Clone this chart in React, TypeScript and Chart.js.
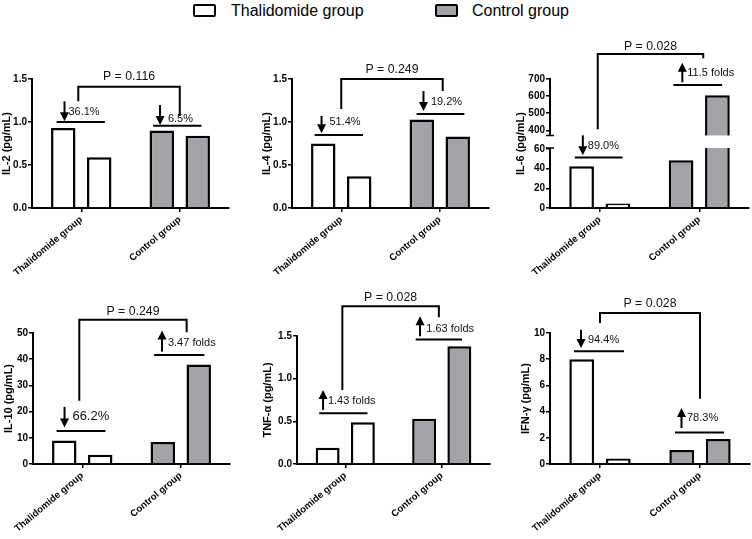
import React, { useEffect, useRef } from 'react';
import { Chart, registerables } from 'chart.js';

Chart.register(...registerables);

const FONT = '"Liberation Sans", Arial, Helvetica, sans-serif';

// ---------- data ----------
const categories = ['Thalidomide group', 'Control group'];
const legendLabels = ['Thalidomide group', 'Control group'];
const groupFills = ['#ffffff', '#a3a3a7'];

const il2Before = [0.93, 0.9];
const il2After = [0.59, 0.84];
const il4Before = [0.75, 1.03];
const il4After = [0.37, 0.83];
const il6Before = [42.5, 48.6];
const il6After = [4.7, 605];
const il10Before = [9.0, 8.4];
const il10After = [3.5, 38.0];
const tnfBefore = [0.19, 0.53];
const tnfAfter = [0.49, 1.38];
const ifnBefore = [8.0, 1.07];
const ifnAfter = [0.42, 1.9];

const il2Ticks = ['0.0', '0.5', '1.0', '1.5'];
const il4Ticks = ['0.0', '0.5', '1.0', '1.5'];
const il6LowTicks = ['0', '20', '40', '60'];
const il6HighTicks = ['400', '500', '600', '700'];
const il10Ticks = ['0', '10', '20', '30', '40', '50'];
const tnfTicks = ['0.0', '0.5', '1.0', '1.5'];
const ifnTicks = ['0', '2', '4', '6', '8', '10'];

const yTitles = ['IL-2 (pg/mL)', 'IL-4 (pg/mL)', 'IL-6 (pg/mL)', 'IL-10 (pg/mL)', 'TNF-\u03b1 (pg/mL)', 'IFN-\u03b3 (pg/mL)'];
const pValues = ['P = 0.116', 'P = 0.249', 'P = 0.028', 'P = 0.249', 'P = 0.028', 'P = 0.028'];
const il2Changes = ['36.1%', '6.5%'];
const il4Changes = ['51.4%', '19.2%'];
const il6Changes = ['89.0%', '11.5 folds'];
const il10Changes = ['66.2%', '3.47 folds'];
const tnfChanges = ['1.43 folds', '1.63 folds'];
const ifnChanges = ['94.4%', '78.3%'];

// ---------- annotation geometry (data units) ----------
type Group = { axis?: string; lineY: number; x0: number; x1: number; arrowX: number; from: number; to: number; textX: number; textY: number; size?: number };
type Bracket = { axis?: string; xL: number; xR: number; top: number; leftEnd: number; rightEnd: number; textY: number };
type Box = { left: number; top: number; axisW: number; plotW: number; padRight: number; padTop: number; plotH: number; xH: number };
type Broken = { lowTicks: string[]; highTicks: string[]; lowMax: number; highMin: number; lowWeight: number; highWeight: number; gapHigh: number; gapLow: number };
type PanelCfg = { title: string; before: number[]; after: number[]; ticks: string[]; pText: string; changes: string[]; bracket: Bracket; groups: Group[]; box: Box; broken?: Broken };

const panels: PanelCfg[] = [
  {
    title: yTitles[0], before: il2Before, after: il2After, ticks: il2Ticks, pText: pValues[0], changes: il2Changes,
    bracket: { xL: -0.03, xR: 1.0, top: 1.41, leftEnd: 1.24, rightEnd: 1.07, textY: 1.53 },
    groups: [
      { lineY: 1.0, x0: -0.25, x1: 0.24, arrowX: -0.17, from: 1.24, to: 1.01, textX: -0.13, textY: 1.12 },
      { lineY: 0.957, x0: -0.27, x1: 0.22, arrowX: -0.2, from: 1.198, to: 0.965, textX: -0.12, textY: 1.035 },
    ],
    box: { left: 0, top: 28, axisW: 32, plotW: 197, padRight: 4, padTop: 51, plotH: 129, xH: 66 },
  },
  {
    title: yTitles[1], before: il4Before, after: il4After, ticks: il4Ticks, pText: pValues[1], changes: il4Changes,
    bracket: { xL: 0.0, xR: 1.03, top: 1.5, leftEnd: 1.15, rightEnd: 1.36, textY: 1.61 },
    groups: [
      { lineY: 0.85, x0: -0.27, x1: 0.22, arrowX: -0.2, from: 1.07, to: 0.87, textX: -0.12, textY: 1.0 },
      { lineY: 1.093, x0: -0.235, x1: 0.25, arrowX: -0.165, from: 1.36, to: 1.128, textX: -0.09, textY: 1.236 },
    ],
    box: { left: 260, top: 28, axisW: 32, plotW: 197, padRight: 4, padTop: 51, plotH: 129, xH: 66 },
  },
  {
    title: yTitles[2], before: il6Before, after: il6After, ticks: il6LowTicks, pText: pValues[2], changes: il6Changes,
    bracket: { axis: 'yHi', xL: -0.02, xR: 1.04, top: 846, leftEnd: 406, rightEnd: 821, textY: 889 },
    groups: [
      { axis: 'yLo', lineY: 51.3, x0: -0.25, x1: 0.23, arrowX: -0.17, from: 73.9, to: 53.6, textX: -0.12, textY: 62.8 },
      { axis: 'yHi', lineY: 665, x0: -0.26, x1: 0.23, arrowX: -0.17, from: 681, to: 795, textX: -0.12, textY: 733 },
    ],
    box: { left: 514, top: 28, axisW: 36, plotW: 199, padRight: 3, padTop: 51, plotH: 129, xH: 66 },
    broken: { lowTicks: il6LowTicks, highTicks: il6HighTicks, lowMax: 67.6, highMin: 334.5, lowWeight: 66.5, highWeight: 62.5, gapHigh: 370, gapLow: 61 },
  },
  {
    title: yTitles[3], before: il10Before, after: il10After, ticks: il10Ticks, pText: pValues[3], changes: il10Changes,
    bracket: { xL: -0.03, xR: 1.06, top: 55.1, leftEnd: 24.1, rightEnd: 50.3, textY: 58.2 },
    groups: [
      { lineY: 12.6, x0: -0.26, x1: 0.235, arrowX: -0.18, from: 21.8, to: 13.9, textX: -0.1, textY: 18.0, size: 13 },
      { lineY: 41.6, x0: -0.27, x1: 0.24, arrowX: -0.19, from: 42.9, to: 51, textX: -0.13, textY: 46.1 },
    ],
    box: { left: 2, top: 280, axisW: 31, plotW: 197, padRight: 4, padTop: 53, plotH: 131, xH: 70 },
  },
  {
    title: yTitles[4], before: tnfBefore, after: tnfAfter, ticks: tnfTicks, pText: pValues[4], changes: tnfChanges,
    bracket: { xL: -0.03, xR: 0.97, top: 1.85, leftEnd: 0.867, rightEnd: 1.72, textY: 1.95 },
    groups: [
      { lineY: 0.595, x0: -0.27, x1: 0.23, arrowX: -0.23, from: 0.634, to: 0.867, textX: -0.18, textY: 0.742 },
      { lineY: 1.459, x0: -0.27, x1: 0.21, arrowX: -0.225, from: 1.497, to: 1.73, textX: -0.16, textY: 1.579 },
    ],
    box: { left: 261, top: 280, axisW: 36, plotW: 193, padRight: 4, padTop: 56, plotH: 128, xH: 70 },
  },
  {
    title: yTitles[5], before: ifnBefore, after: ifnAfter, ticks: ifnTicks, pText: pValues[5], changes: ifnChanges,
    bracket: { xL: 0.0, xR: 1.0, top: 11.53, leftEnd: 10.76, rightEnd: 4.98, textY: 12.24 },
    groups: [
      { lineY: 8.6, x0: -0.26, x1: 0.24, arrowX: -0.19, from: 10.25, to: 8.85, textX: -0.12, textY: 9.49 },
      { lineY: 2.41, x0: -0.25, x1: 0.24, arrowX: -0.185, from: 2.75, to: 4.27, textX: -0.13, textY: 3.51 },
    ],
    box: { left: 519, top: 280, axisW: 31, plotW: 200, padRight: 2, padTop: 53, plotH: 131, xH: 70 },
  },
];

// ---------- chart building ----------
function yScale(ticks: string[], axisW: number, extra: any) {
  const values = ticks.map(Number);
  return {
    type: 'linear',
    position: 'left',
    grid: { display: true, drawOnChartArea: false, drawTicks: true, tickLength: 4, color: '#000', lineWidth: 1.5 },
    border: { display: true, color: '#000', width: 2 },
    ticks: {
      padding: 1,
      color: '#000',
      font: { family: FONT, size: 10, weight: 'bold' },
      callback: (_v: any, i: number) => (ticks[i] !== undefined ? ticks[i] : ''),
    },
    afterBuildTicks: (s: any) => {
      s.ticks = values.map((v) => ({ value: v }));
    },
    afterFit: (s: any) => {
      s.width = axisW;
    },
    ...extra,
  };
}

function drawArrow(ctx: CanvasRenderingContext2D, x: number, yFrom: number, yTo: number) {
  const dir = yTo > yFrom ? 1 : -1;
  const head = 9;
  const hw = 4.5;
  ctx.beginPath();
  ctx.moveTo(x, yFrom);
  ctx.lineTo(x, yTo - dir * head + dir);
  ctx.stroke();
  ctx.beginPath();
  ctx.moveTo(x, yTo);
  ctx.lineTo(x - hw, yTo - dir * head);
  ctx.lineTo(x + hw, yTo - dir * head);
  ctx.closePath();
  ctx.fill();
}

function makeMarksPlugin(cfg: PanelCfg) {
  return {
    id: 'cytokineMarks',
    afterDatasetsDraw(chart: any) {
      const brk = cfg.broken;
      if (!brk) return;
      const ctx = chart.ctx as CanvasRenderingContext2D;
      const area = chart.chartArea;
      const top = chart.scales.yHi.getPixelForValue(brk.gapHigh);
      const bot = chart.scales.yLo.getPixelForValue(brk.gapLow);
      ctx.save();
      ctx.fillStyle = '#ffffff';
      ctx.fillRect(area.left - 1.5, top, area.right - area.left + 3, bot - top);
      ctx.strokeStyle = '#000';
      ctx.lineWidth = 1.5;
      ctx.beginPath();
      ctx.moveTo(area.left - 4, top);
      ctx.lineTo(area.left + 4, top);
      ctx.moveTo(area.left - 4, bot);
      ctx.lineTo(area.left + 4, bot);
      ctx.stroke();
      ctx.restore();
    },
    afterDraw(chart: any) {
      const ctx = chart.ctx as CanvasRenderingContext2D;
      const xs = chart.scales.x;
      const xOf = (v: number) => xs.getPixelForValue(v);
      const yOf = (axis: string | undefined, v: number) => chart.scales[axis || 'y'].getPixelForValue(v);
      ctx.save();
      ctx.strokeStyle = '#000';
      ctx.fillStyle = '#000';
      ctx.lineWidth = 2;
      ctx.lineCap = 'butt';
      ctx.lineJoin = 'miter';

      // P-value bracket
      const b = cfg.bracket;
      const xl = xOf(b.xL);
      const xr = xOf(b.xR);
      const yt = yOf(b.axis, b.top);
      ctx.beginPath();
      ctx.moveTo(xl, yOf(b.axis, b.leftEnd));
      ctx.lineTo(xl, yt);
      ctx.lineTo(xr, yt);
      ctx.lineTo(xr, yOf(b.axis, b.rightEnd));
      ctx.stroke();
      ctx.font = `12.3px ${FONT}`;
      ctx.textAlign = 'center';
      ctx.textBaseline = 'middle';
      ctx.fillStyle = '#111';
      ctx.fillText(cfg.pText, (xl + xr) / 2, yOf(b.axis, b.textY));

      // group change marks
      cfg.groups.forEach((g, i) => {
        ctx.fillStyle = '#000';
        const ly = yOf(g.axis, g.lineY);
        ctx.beginPath();
        ctx.moveTo(xOf(i + g.x0), ly);
        ctx.lineTo(xOf(i + g.x1), ly);
        ctx.stroke();
        drawArrow(ctx, xOf(i + g.arrowX), yOf(g.axis, g.from), yOf(g.axis, g.to));
        ctx.font = `${g.size || 11}px ${FONT}`;
        ctx.textAlign = 'left';
        ctx.textBaseline = 'middle';
        ctx.fillStyle = '#111';
        ctx.fillText(cfg.changes[i], xOf(i + g.textX), yOf(g.axis, g.textY));
      });

      // shared y title for the broken axis
      if (cfg.broken) {
        const hi = chart.scales.yHi;
        const lo = chart.scales.yLo;
        ctx.save();
        ctx.font = `bold 11px ${FONT}`;
        ctx.fillStyle = '#000';
        ctx.textAlign = 'center';
        ctx.textBaseline = 'middle';
        ctx.translate(lo.left + 6.6, (hi.top + lo.bottom) / 2);
        ctx.rotate(-Math.PI / 2);
        ctx.fillText(cfg.title, 0, 0);
        ctx.restore();
      }
      ctx.restore();
    },
  };
}

function buildConfig(cfg: PanelCfg): any {
  const B = cfg.box;
  const common = {
    backgroundColor: groupFills,
    borderColor: '#000',
    borderWidth: 2.5,
    barPercentage: 0.68,
    categoryPercentage: 0.73,
  };
  let datasets: any[];
  let yScales: any;
  if (cfg.broken) {
    const br = cfg.broken;
    datasets = [
      { ...common, label: 'Before', data: cfg.before.map((v) => Math.min(v, br.lowMax)), yAxisID: 'yLo', stack: 'before' },
      { ...common, label: 'After', data: cfg.after.map((v) => Math.min(v, br.lowMax)), yAxisID: 'yLo', stack: 'after' },
      { ...common, label: 'After (upper)', data: cfg.after.map((v) => (v > br.highMin ? [br.highMin, v] : null)), yAxisID: 'yHi', stack: 'after' },
    ];
    const hiVals = br.highTicks.map(Number);
    yScales = {
      yLo: yScale(br.lowTicks, B.axisW, { min: 0, max: br.lowMax, stack: 'il6', stackWeight: br.lowWeight, stacked: false }),
      yHi: yScale(br.highTicks, B.axisW, { min: br.highMin, max: hiVals[hiVals.length - 1], stack: 'il6', stackWeight: br.highWeight, stacked: false }),
    };
  } else {
    datasets = [
      { ...common, label: 'Before', data: cfg.before },
      { ...common, label: 'After', data: cfg.after },
    ];
    const vals = cfg.ticks.map(Number);
    yScales = {
      y: yScale(cfg.ticks, B.axisW, {
        min: vals[0],
        max: vals[vals.length - 1],
        title: { display: true, text: cfg.title, color: '#000', font: { family: FONT, size: 11, weight: 'bold' }, padding: 0 },
      }),
    };
  }
  return {
    type: 'bar',
    data: { labels: categories, datasets },
    options: {
      responsive: false,
      maintainAspectRatio: false,
      animation: false,
      events: [],
      layout: { padding: { top: B.padTop, right: B.padRight, left: 0, bottom: 0 } },
      plugins: { legend: { display: false }, tooltip: { enabled: false }, title: { display: false } },
      scales: {
        x: {
          type: 'category',
          offset: true,
          grid: { display: true, drawOnChartArea: false, drawTicks: true, tickLength: 4, offset: false, color: '#000', lineWidth: 1.5 },
          border: { display: true, color: '#000', width: 2 },
          ticks: { autoSkip: false, maxRotation: 40, minRotation: 40, padding: 2, color: '#000', font: { family: FONT, size: 9.6, weight: 'bold' } },
          afterFit: (s: any) => {
            s.height = B.xH;
          },
        },
        ...yScales,
      },
    },
    plugins: [makeMarksPlugin(cfg)],
  };
}

function Panel({ cfg }: { cfg: PanelCfg }) {
  const ref = useRef<HTMLCanvasElement>(null);
  useEffect(() => {
    const chart = new Chart(ref.current as HTMLCanvasElement, buildConfig(cfg));
    return () => chart.destroy();
  }, [cfg]);
  const B = cfg.box;
  const w = B.axisW + B.plotW + B.padRight;
  const h = B.padTop + B.plotH + B.xH;
  return (
    <canvas
      ref={ref}
      width={w}
      height={h}
      style={{ position: 'absolute', left: B.left, top: B.top, width: w, height: h }}
    />
  );
}

function LegendItem({ x, fill, label, textX }: { x: number; fill: string; label: string; textX: number }) {
  return (
    <>
      <div
        style={{
          position: 'absolute',
          left: x,
          top: 4,
          width: 23,
          height: 13,
          boxSizing: 'border-box',
          border: '2.5px solid #000',
          borderRadius: 2,
          background: fill,
        }}
      />
      <div
        style={{
          position: 'absolute',
          left: textX,
          top: 0,
          height: 21,
          lineHeight: '21px',
          fontSize: 16,
          fontFamily: FONT,
          color: '#000',
          whiteSpace: 'nowrap',
        }}
      >
        {label}
      </div>
    </>
  );
}

export default function App() {
  return (
    <div style={{ position: 'absolute', left: 0, top: 0, width: 752, height: 539, background: '#fff', overflow: 'hidden' }}>
      <LegendItem x={193} fill={groupFills[0]} label={legendLabels[0]} textX={231} />
      <LegendItem x={435} fill={groupFills[1]} label={legendLabels[1]} textX={472} />
      {panels.map((p, i) => (
        <Panel key={i} cfg={p} />
      ))}
    </div>
  );
}
